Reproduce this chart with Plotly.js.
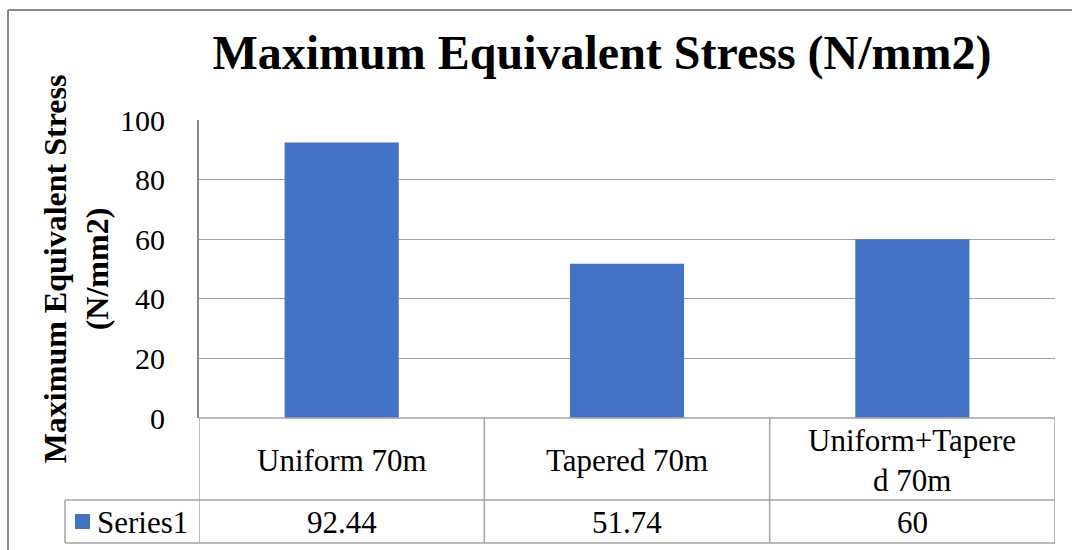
<!DOCTYPE html>
<html>
<head>
<meta charset="utf-8">
<script src="https://cdn.plot.ly/plotly-3.0.1.min.js"></script>
<style>html,body{margin:0;padding:0;background:#fff;}#chart{width:1072px;height:550px;}</style>
</head>
<body>
<div id="chart"></div>
<script>
const categories = ["Uniform 70m", "Tapered 70m", "Uniform+Tapered 70m"];
const categoryLabels = ["Uniform 70m", "Tapered 70m", "Uniform+Tapere<br>d 70m"];
const values = [92.44, 51.74, 60];
const valueLabels = ["92.44", "51.74", "60"];
const seriesName = "Series1";
const yTicks = [0, 20, 40, 60, 80, 100];

const FONT = "Liberation Serif, Times New Roman, serif";
const GRID = "#a3a3a3";
const LINE = "#8a8a8a";
const BAR = "#4472C4";

// pixel helpers -> paper coordinates (plot area: x 199..1055, y 120..418)
const L = 199, R = 1055, T = 120, B = 418;
const px = x => (x - L) / (R - L);
const py = y => (B - y) / (B - T);

const shapes = [];
function hline(y, x0, x1, color, w) {
  shapes.push({type: 'line', xref: 'paper', yref: 'paper', x0: px(x0), x1: px(x1), y0: py(y), y1: py(y), line: {color: color, width: w}});
}
function vlineData(x, y0, y1) {
  shapes.push({type: 'line', xref: 'x', yref: 'paper', x0: x, x1: x, y0: py(y0), y1: py(y1), line: {color: GRID, width: 1.5}});
}
// outer chart border (top & left)
hline(10, 8, 1080, LINE, 2);
shapes.push({type: 'line', xref: 'paper', yref: 'paper', x0: px(8), x1: px(8), y0: py(10), y1: py(560), line: {color: LINE, width: 2}});
// data table lines
hline(B, L, R, GRID, 1.5);
hline(500, 65, R, GRID, 1.5);
hline(543, 65, R, GRID, 1.5);
for (let i = 0; i <= categories.length; i++) vlineData(i - 0.5, B, 543);
shapes.push({type: 'line', xref: 'paper', yref: 'paper', x0: px(65), x1: px(65), y0: py(500), y1: py(543), line: {color: GRID, width: 1.5}});
// legend key square in the data table
shapes.push({type: 'rect', xref: 'paper', yref: 'paper', x0: px(75), x1: px(90), y0: py(529), y1: py(514), fillcolor: BAR, line: {width: 0}});

const annotations = [];
categories.forEach((c, i) => {
  annotations.push({xref: 'x', yref: 'paper', x: c, y: py(460), text: categoryLabels[i], showarrow: false,
    xanchor: 'center', yanchor: 'middle', font: {family: FONT, size: 31, color: '#000'}});
  annotations.push({xref: 'x', yref: 'paper', x: c, y: py(522), text: valueLabels[i], showarrow: false,
    xanchor: 'center', yanchor: 'middle', font: {family: FONT, size: 31, color: '#000'}});
});
annotations.push({xref: 'paper', yref: 'paper', x: px(95), y: py(522), text: seriesName, showarrow: false,
  xanchor: 'left', yanchor: 'middle', font: {family: FONT, size: 31, color: '#000'}});

const trace = {
  type: 'bar', x: categories, y: values, name: seriesName,
  marker: {color: BAR}, width: 0.4, showlegend: false, hoverinfo: 'none'
};

const layout = {
  width: 1072, height: 550,
  margin: {l: L, r: 1072 - R, t: T, b: 550 - B},
  paper_bgcolor: '#fff', plot_bgcolor: '#fff',
  title: {text: 'Maximum Equivalent Stress (N/mm2)', x: 602 / 1072, xanchor: 'center', xref: 'container',
    y: 1 - 52 / 550, yanchor: 'middle', yref: 'container',
    font: {family: FONT, size: 48, color: '#000', weight: 'bold'}},
  xaxis: {type: 'category', range: [-0.5, 2.5], showticklabels: false, ticks: '', showgrid: false,
    zeroline: false, showline: false, fixedrange: true, automargin: false},
  yaxis: {range: [0, 100], tickvals: yTicks, ticktext: yTicks.map(String), showgrid: true, gridcolor: GRID, gridwidth: 1,
    zeroline: false, showline: true, linecolor: LINE, linewidth: 2, ticks: '', ticklabelstandoff: 26,
    tickfont: {family: FONT, size: 30, color: '#000'}, automargin: false,
    title: {text: 'Maximum Equivalent Stress<br>(N/mm2)', standoff: 2,
      font: {family: FONT, size: 32, color: '#000', weight: 'bold'}}},
  showlegend: false,
  shapes: shapes,
  annotations: annotations
};

Plotly.newPlot('chart', [trace], layout, {staticPlot: true, displayModeBar: false});
</script>
</body>
</html>
